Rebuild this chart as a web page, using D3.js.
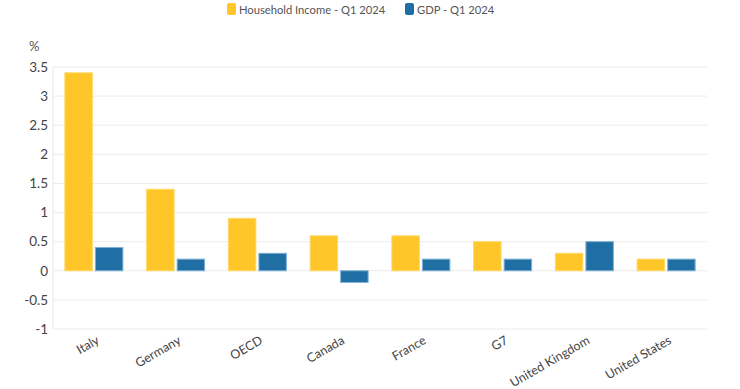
<!DOCTYPE html>
<html>
<head>
<meta charset="utf-8">
<script src="https://cdn.jsdelivr.net/npm/d3@7"></script>
<style>
  body { margin: 0; background: #fff; }
  svg { font-family: Lato, "Noto Sans", sans-serif; }
</style>
</head>
<body>
<svg id="chart"></svg>
<script>
// Chart data
var categories = ["Italy", "Germany", "OECD", "Canada", "France", "G7", "United Kingdom", "United States"];
var householdIncome = [3.4, 1.4, 0.9, 0.6, 0.6, 0.5, 0.3, 0.2];
var gdp = [0.4, 0.2, 0.3, -0.2, 0.2, 0.2, 0.5, 0.2];
var seriesNames = ["Household Income - Q1 2024", "GDP - Q1 2024"];
var yTicks = [-1, -0.5, 0, 0.5, 1, 1.5, 2, 2.5, 3, 3.5];

var width = 740, height = 389;
var margin = {top: 67, right: 33, bottom: 60, left: 53};
var colors = ["#ffc629", "#1f6fa4"];
var strokes = ["#ffd866", "#7fb0d4"];
var font = "Lato, 'Noto Sans', sans-serif";

var svg = d3.select("#chart")
    .attr("width", width)
    .attr("height", height);

var innerW = width - margin.left - margin.right;
var innerH = height - margin.top - margin.bottom;

var g = svg.append("g")
    .attr("transform", "translate(" + margin.left + "," + margin.top + ")");

var x = d3.scaleBand()
    .domain(categories)
    .range([0, innerW]);

var x1 = d3.scaleBand()
    .domain([0, 1])
    .range([x.bandwidth() / 2 - 29, x.bandwidth() / 2 + 29])
    .paddingInner(0.1);

var y = d3.scaleLinear()
    .domain([-1, 3.5])
    .range([innerH, 0]);

// Gridlines
g.append("g")
    .selectAll("line")
    .data(yTicks)
    .enter()
    .append("line")
    .attr("x1", 0)
    .attr("x2", innerW)
    .attr("y1", function (d) {return y(d);})
    .attr("y2", function (d) {return y(d);})
    .attr("stroke", "#ebebeb")
    .attr("stroke-width", 1);

// Left axis line
g.append("line")
    .attr("x1", 0).attr("x2", 0)
    .attr("y1", 0).attr("y2", innerH)
    .attr("stroke", "#e6e6e6");

// Y axis
var yAxis = d3.axisLeft(y)
    .tickValues(yTicks)
    .tickSize(0)
    .tickPadding(5)
    .tickFormat(function (d) {return String(d);});

g.append("g")
    .call(yAxis)
    .attr("font-family", font)
    .attr("font-size", 13.5)
    .call(function (s) {s.select(".domain").remove();})
    .selectAll("text")
    .attr("fill", "#444");

// Bars
var series = [householdIncome, gdp];
series.forEach(function (vals, si) {
    g.append("g")
        .selectAll("rect")
        .data(vals)
        .enter()
        .append("rect")
        .attr("x", function (d, i) {return x(categories[i]) + x1(si);})
        .attr("width", x1.bandwidth())
        .attr("y", function (d) {return y(Math.max(0, d));})
        .attr("height", function (d) {return Math.abs(y(d) - y(0));})
        .attr("fill", colors[si])
        .attr("stroke", strokes[si])
        .attr("stroke-width", 1);
});

// X axis labels
var xAxis = d3.axisBottom(x)
    .tickSize(0);

g.append("g")
    .attr("transform", "translate(0," + innerH + ")")
    .call(xAxis)
    .attr("font-family", font)
    .attr("font-size", 12.5)
    .call(function (s) {s.select(".domain").remove();})
    .selectAll("text")
    .attr("fill", "#444")
    .attr("text-anchor", "end")
    .attr("x", 0)
    .attr("y", 0)
    .attr("dy", "0.35em")
    .attr("transform", "translate(4,10) rotate(-30)");

// Unit label
svg.append("text")
    .attr("x", 29)
    .attr("y", 51)
    .attr("fill", "#555")
    .attr("font-size", 13)
    .text("%");

// Legend
var legendX = [227, 405];
var legend = svg.append("g");
seriesNames.forEach(function (name, i) {
    legend.append("rect")
        .attr("x", legendX[i])
        .attr("y", 3)
        .attr("width", 9)
        .attr("height", 12)
        .attr("rx", 2)
        .attr("fill", colors[i]);
    legend.append("text")
        .attr("x", legendX[i] + 12)
        .attr("y", 13.5)
        .attr("fill", "#555")
        .attr("font-size", 11.2)
        .text(name);
});
</script>
</body>
</html>
